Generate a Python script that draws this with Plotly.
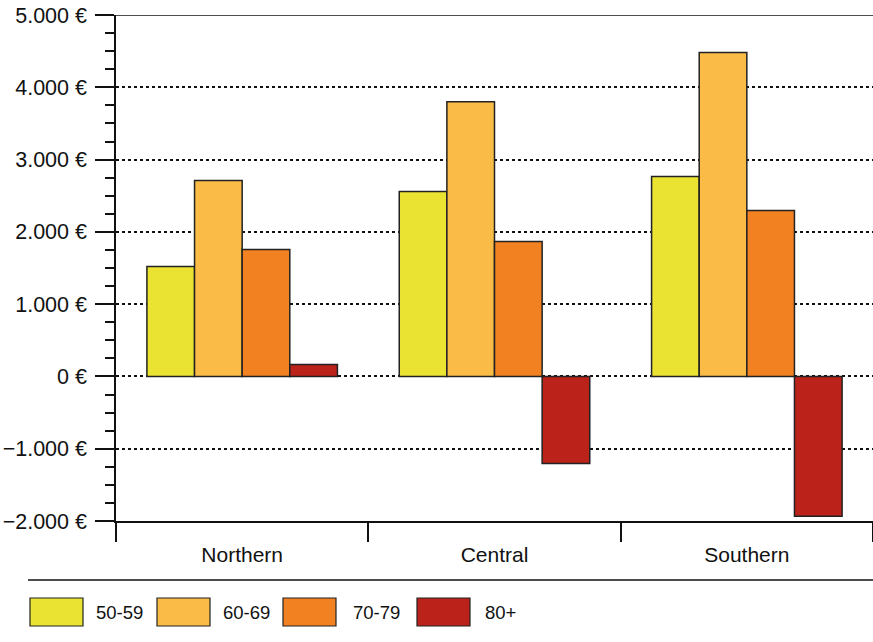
import plotly.graph_objects as go

regions = ["Northern", "Central", "Southern"]
age_groups = ["50-59", "60-69", "70-79", "80+"]
vals_50_59 = [1520, 2560, 2765]
vals_60_69 = [2710, 3800, 4480]
vals_70_79 = [1755, 1865, 2295]
vals_80p = [165, -1205, -1935]
series = [vals_50_59, vals_60_69, vals_70_79, vals_80p]
colors = ["#EBE332", "#FABC46", "#F28122", "#BB2219"]

ytickvals = [-2000, -1000, 0, 1000, 2000, 3000, 4000, 5000]
yticktext = ["\u22122.000 €", "\u22121.000 €", "0 €", "1.000 €", "2.000 €", "3.000 €", "4.000 €", "5.000 €"]

FONT = "Arial, Liberation Sans, Helvetica, sans-serif"

fig = go.Figure()
for name, vals, col in zip(age_groups, series, colors):
    fig.add_trace(go.Bar(x=regions, y=vals, name=name, marker=dict(color=col, line=dict(color="#222222", width=1.5)),
                         showlegend=False))

W, H = 873, 642
PL, PR, PT, PB = 116, 873, 15, 521
L, T = PL, PT
R = W - PR
B = H - PB
ph = PB - PT
pw = PR - PL

def py(pix):
    return (PB - pix) / ph

def px(pix):
    return (pix - PL) / pw

shapes = []
annotations = []
# top line at 5000
shapes.append(dict(type="line", xref="paper", yref="y", x0=0, x1=1, y0=5000, y1=5000,
                   line=dict(color="#111111", width=1.5)))
# horizontal separator
shapes.append(dict(type="line", xref="paper", yref="paper", x0=px(28), x1=px(873), y0=py(580), y1=py(580),
                   line=dict(color="#111111", width=1.5)))
# legend
box_x = [30, 157, 283, 417]
txt_x = [96, 223, 353, 485]
for i, (name, col) in enumerate(zip(age_groups, colors)):
    shapes.append(dict(type="rect", xref="paper", yref="paper", x0=px(box_x[i]), x1=px(box_x[i] + 53),
                       y0=py(626), y1=py(598), fillcolor=col, line=dict(color="#222222", width=1.2)))
    annotations.append(dict(xref="paper", yref="paper", x=px(txt_x[i]), y=py(612), text=name, showarrow=False,
                            xanchor="left", yanchor="middle", xshift=-2,
                            font=dict(family=FONT, size=18.5, color="#111111")))

fig.update_layout(
    width=W, height=H,
    margin=dict(l=L, r=R, t=T, b=B),
    plot_bgcolor="white", paper_bgcolor="white",
    barmode="group", bargap=0.245, bargroupgap=0,
    font=dict(family=FONT, size=19, color="#111111"),
    shapes=shapes, annotations=annotations,
    showlegend=False,
    xaxis=dict(type="category", tickson="boundaries", ticks="outside", ticklen=19, tickwidth=1.5,
               tickcolor="#111111", showline=True, linecolor="#111111", linewidth=1.5,
               showgrid=False, ticklabelstandoff=14,
               tickfont=dict(family=FONT, size=21, color="#111111")),
    yaxis=dict(range=[-2000, 5000], tickvals=ytickvals, ticktext=yticktext, ticks="outside", ticklen=19,
               tickwidth=1.5, tickcolor="#111111", showline=True, linecolor="#111111", linewidth=1.5,
               showgrid=True, gridcolor="#111111", gridwidth=1.5, griddash="dot", zeroline=False,
               ticklabelstandoff=4,
               minor=dict(dtick=250, tick0=0, ticks="outside", ticklen=9, tickwidth=1.5, tickcolor="#111111",
                          showgrid=False),
               tickfont=dict(family=FONT, size=21.5, color="#111111")),
)

fig.write_html("out.html", config={"displayModeBar": False},
               post_script="document.body.style.margin='0';document.body.style.overflow='hidden';")
